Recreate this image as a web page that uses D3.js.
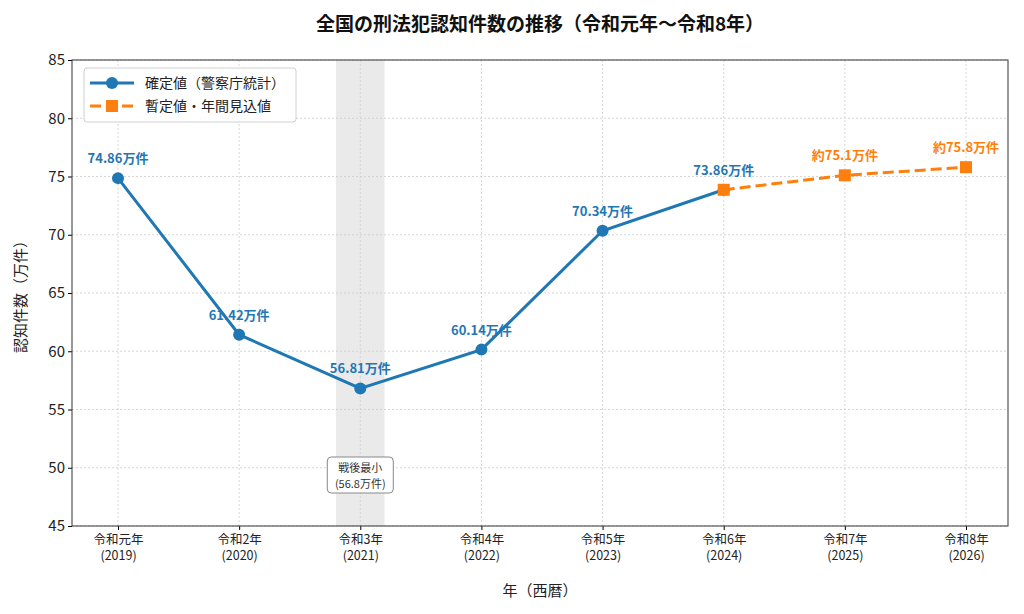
<!DOCTYPE html>
<html lang="ja">
<head>
<meta charset="UTF-8">
<script src="https://d3js.org/d3.v7.min.js"></script>
<style>
  body { margin: 0; background: #fff; }
  text { font-family: "Noto Sans CJK JP", "Noto Sans", sans-serif; }
</style>
</head>
<body>
<svg width="1024" height="614"></svg>
<script>
// data
const years = ["令和元年\n(2019)", "令和2年\n(2020)", "令和3年\n(2021)", "令和4年\n(2022)",
               "令和5年\n(2023)", "令和6年\n(2024)", "令和7年\n(2025)", "令和8年\n(2026)"];
const actual = [74.86, 61.42, 56.81, 60.14, 70.34, 73.86];
const actualLabels = ["74.86万件", "61.42万件", "56.81万件", "60.14万件", "70.34万件", "73.86万件"];
const forecast = [73.86, 75.1, 75.8];
const forecastLabels = [null, "約75.1万件", "約75.8万件"];
const yTicks = [45, 50, 55, 60, 65, 70, 75, 80, 85];

const blue = "#1f77b4", orange = "#ff7f0e";
const svg = d3.select("svg");
const m = {l: 72, r: 1008, t: 60, b: 526};

const x = d3.scalePoint().domain(d3.range(years.length)).range([118, 966]);
const y = d3.scaleLinear().domain([45, 85]).range([m.b, m.t]);
const step = x.step();

// shaded band 2021
svg.append("rect").attr("x", x(2) - step * 0.2).attr("width", step * 0.4)
  .attr("y", m.t).attr("height", m.b - m.t).attr("fill", "#d9d9d9").attr("opacity", 0.55);

// grid
const g = svg.append("g");
g.selectAll(".gx").data(d3.range(years.length)).join("line")
  .attr("x1", d => x(d)).attr("x2", d => x(d)).attr("y1", m.t).attr("y2", m.b)
  .attr("stroke", "#ccc").attr("stroke-dasharray", "2,2").attr("stroke-width", 0.8);
g.selectAll(".gy").data(yTicks).join("line")
  .attr("x1", m.l).attr("x2", m.r).attr("y1", d => y(d)).attr("y2", d => y(d))
  .attr("stroke", "#ccc").attr("stroke-dasharray", "2,2").attr("stroke-width", 0.8);

// axes
const yAxis = svg.append("g").attr("transform", `translate(${m.l},0)`)
  .call(d3.axisLeft(y).tickValues(yTicks).tickSize(4));
yAxis.selectAll("text").attr("font-size", 15).attr("fill", "#222");
const xAxis = svg.append("g").attr("transform", `translate(0,${m.b})`)
  .call(d3.axisBottom(x).tickSize(4).tickFormat(""));
xAxis.selectAll(".tick").each(function(d) {
  const t = d3.select(this).append("text").attr("fill", "#222").attr("font-size", 12.5)
    .attr("text-anchor", "middle");
  years[d].split("\n").forEach((s, i) => t.append("tspan").attr("x", 0).attr("y", 18 + i * 16).text(s));
});
svg.selectAll(".domain").remove();
svg.append("rect").attr("x", m.l).attr("y", m.t).attr("width", m.r - m.l).attr("height", m.b - m.t)
  .attr("fill", "none").attr("stroke", "#333").attr("stroke-width", 1);

// lines
svg.append("path").datum(actual)
  .attr("d", d3.line().x((d, i) => x(i)).y(d => y(d)))
  .attr("fill", "none").attr("stroke", blue).attr("stroke-width", 3);
svg.append("path").datum(forecast)
  .attr("d", d3.line().x((d, i) => x(i + 5)).y(d => y(d)))
  .attr("fill", "none").attr("stroke", orange).attr("stroke-width", 3).attr("stroke-dasharray", "11,5");

svg.selectAll(".pa").data(actual).join("circle")
  .attr("cx", (d, i) => x(i)).attr("cy", d => y(d)).attr("r", 6).attr("fill", blue);
svg.selectAll(".pf").data(forecast).join("rect")
  .attr("x", (d, i) => x(i + 5) - 6).attr("y", d => y(d) - 6).attr("width", 12).attr("height", 12)
  .attr("fill", orange);

svg.selectAll(".la").data(actual).join("text")
  .attr("x", (d, i) => x(i)).attr("y", d => y(d) - 15).attr("text-anchor", "middle")
  .attr("font-size", 13).attr("font-weight", "bold").attr("fill", blue)
  .text((d, i) => actualLabels[i]);
const fIdx = d3.range(forecast.length).filter(i => forecastLabels[i]);
svg.selectAll(".lf").data(fIdx).join("text")
  .attr("x", i => x(i + 5)).attr("y", i => y(forecast[i]) - 15).attr("text-anchor", "middle")
  .attr("font-size", 13).attr("font-weight", "bold").attr("fill", orange)
  .text(i => forecastLabels[i]);

// annotation box
const ax = x(2), ay = 476;
svg.append("rect").attr("x", ax - 33).attr("y", ay - 19).attr("width", 66).attr("height", 36)
  .attr("rx", 4).attr("fill", "#fff").attr("stroke", "#888");
svg.append("text").attr("x", ax).attr("y", ay - 4).attr("text-anchor", "middle")
  .attr("font-size", 11).attr("fill", "#333").text("戦後最小");
svg.append("text").attr("x", ax).attr("y", ay + 12).attr("text-anchor", "middle")
  .attr("font-size", 11).attr("fill", "#333").text("(56.8万件)");

// legend
const lg = svg.append("g").attr("transform", "translate(84,68)");
lg.append("rect").attr("width", 212).attr("height", 54).attr("rx", 3)
  .attr("fill", "#fff").attr("stroke", "#ccc").attr("opacity", 0.9);
lg.append("line").attr("x1", 6).attr("x2", 50).attr("y1", 15).attr("y2", 15).attr("stroke", blue).attr("stroke-width", 3);
lg.append("circle").attr("cx", 28).attr("cy", 15).attr("r", 6).attr("fill", blue);
lg.append("line").attr("x1", 6).attr("x2", 50).attr("y1", 38).attr("y2", 38).attr("stroke", orange).attr("stroke-width", 3).attr("stroke-dasharray", "11,5");
lg.append("rect").attr("x", 22).attr("y", 32).attr("width", 12).attr("height", 12).attr("fill", orange);
lg.append("text").attr("x", 61).attr("y", 20).attr("font-size", 14).attr("fill", "#222").text("確定値（警察庁統計）");
lg.append("text").attr("x", 61).attr("y", 43).attr("font-size", 14).attr("fill", "#222").text("暫定値・年間見込値");

// titles
svg.append("text").attr("x", 540).attr("y", 31).attr("text-anchor", "middle")
  .attr("font-size", 19).attr("font-weight", "bold").attr("fill", "#111")
  .text("全国の刑法犯認知件数の推移（令和元年〜令和8年）");
svg.append("text").attr("x", 540).attr("y", 596).attr("text-anchor", "middle")
  .attr("font-size", 15).attr("fill", "#222").text("年（西暦）");
svg.append("text").attr("transform", "translate(26,293) rotate(-90)").attr("text-anchor", "middle")
  .attr("font-size", 15).attr("fill", "#222").text("認知件数（万件）");
</script>
</body>
</html>
